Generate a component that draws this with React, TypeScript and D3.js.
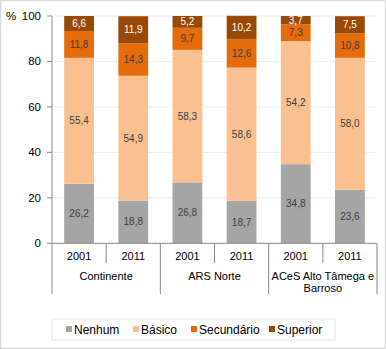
import React from "react";
import * as d3 from "d3";

const groups = ["Continente", "ARS Norte", "ACeS Alto Tâmega e Barroso"];
const years = ["2001", "2011"];
const seriesNames = ["Nenhum", "Básico", "Secundário", "Superior"];
const seriesColors = ["#a5a5a5", "#fac090", "#e46c0a", "#984807"];
const labelColors = ["#404040", "#404040", "#404040", "#ffffff"];
const nenhum = [26.2, 18.8, 26.8, 18.7, 34.8, 23.6];
const basico = [55.4, 54.9, 58.3, 58.6, 54.2, 58.0];
const secundario = [11.8, 14.3, 9.7, 12.6, 7.3, 10.8];
const superior = [6.6, 11.9, 5.2, 10.2, 3.7, 7.5];
const yTicks = [0, 20, 40, 60, 80, 100];

const W = 386, H = 349;
const left = 52, right = 377, top = 16, bottom = 243.3;

export default function App() {
  const bars = groups.flatMap((g, gi) => years.map((y, yi) => ({ key: `${gi}-${yi}`, g, y, i: gi * 2 + yi })));
  const x = d3.scaleBand<string>().domain(bars.map(b => b.key)).range([left, right]).paddingInner(0.45).paddingOuter(0.225);
  const xb = d3.scaleBand<string>().domain(bars.map(b => b.key)).range([left, right]);
  const yS = d3.scaleLinear().domain([0, 100]).range([bottom, top]);
  const values = [nenhum, basico, secundario, superior];
  const table = bars.map(b => {
    const o: any = { key: b.key };
    seriesNames.forEach((s, si) => (o[s] = values[si][b.i]));
    return o;
  });
  const stacked = d3.stack<any>().keys(seriesNames)(table);
  const font = "Liberation Sans, Arial, sans-serif";
  const fmt = (v: number) => v.toFixed(1).replace(".", ",");

  return (
    <svg width={W} height={H} style={{ position: "absolute", left: 0, top: 0, fontFamily: font }}>
      <rect x={0.5} y={0.5} width={W - 1} height={H - 1} fill="#fff" stroke="#d9d9d9" strokeWidth={1.5} />
      {yTicks.map(t => (
        <g key={t}>
          {t > 0 && <line x1={left} x2={right} y1={yS(t)} y2={yS(t)} stroke="#ececec" strokeWidth={1} />}
          <line x1={left - 5} x2={left} y1={yS(t)} y2={yS(t)} stroke="#888" />
          <text x={41} y={yS(t)} dy="0.35em" textAnchor="end" fontSize={11.5} fill="#000">{t}</text>
        </g>
      ))}
      <text x={6} y={yS(100)} dy="0.35em" fontSize={11.5} fill="#000">%</text>
      {stacked.map((layer, si) => (
        <g key={si}>
          {layer.map((d, bi) => {
            const k = bars[bi].key;
            const y0 = yS(d[0]), y1 = yS(d[1]);
            return (
              <g key={k}>
                <rect x={x(k)} y={y1} width={x.bandwidth()} height={y0 - y1} fill={seriesColors[si]} />
                <text x={x(k)! + x.bandwidth() / 2} y={(y0 + y1) / 2} dy="0.35em" textAnchor="middle" fontSize={10} fill={labelColors[si]}>
                  {fmt(values[si][bi])}
                </text>
              </g>
            );
          })}
        </g>
      ))}
      <line x1={left} x2={left} y1={top} y2={bottom} stroke="#888" />
      <line x1={left} x2={right} y1={bottom} y2={bottom} stroke="#888" />
      {bars.map(b => (
        <g key={b.key}>
          <line x1={xb(b.key)! + xb.bandwidth()} x2={xb(b.key)! + xb.bandwidth()} y1={bottom} y2={b.i % 2 === 1 ? 294 : 263} stroke="#888" />
          <text x={xb(b.key)! + xb.bandwidth() / 2} y={256.5} dy="0.35em" textAnchor="middle" fontSize={11} fill="#000">{b.y}</text>
        </g>
      ))}
      <line x1={left} x2={left} y1={bottom} y2={294} stroke="#888" />
      {groups.map((g, gi) => {
        const cx = xb(bars[gi * 2].key)! + xb.bandwidth();
        if (gi === 2) {
          return (
            <text key={g} x={cx} y={276} textAnchor="middle" fontSize={11} fill="#000">
              <tspan x={cx} dy="0.35em">ACeS Alto Tâmega e</tspan>
              <tspan x={cx} dy="1.1em">Barroso</tspan>
            </text>
          );
        }
        return <text key={g} x={cx} y={276} dy="0.35em" textAnchor="middle" fontSize={11} fill="#000">{g}</text>;
      })}
      <rect x={52} y={319} width={283} height={21} fill="#fff" stroke="#e6e6e6" />
      {seriesNames.map((s, si) => {
        const xs = [66, 133, 191, 269][si];
        return (
          <g key={s}>
            <rect x={xs} y={326} width={6} height={6} fill={seriesColors[si]} />
            <text x={xs + 8} y={329.5} dy="0.35em" fontSize={12} fill="#000">{s}</text>
          </g>
        );
      })}
    </svg>
  );
}
